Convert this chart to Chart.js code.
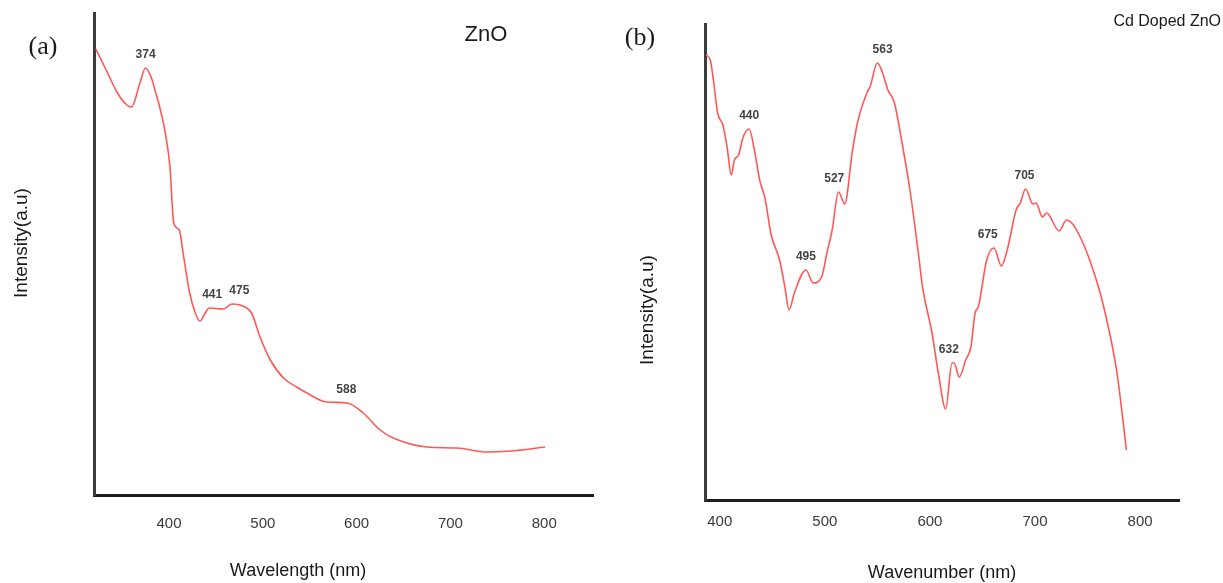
<!DOCTYPE html>
<html>
<head>
<meta charset="utf-8">
<script src="https://cdn.jsdelivr.net/npm/chart.js@4.4.1/dist/chart.umd.min.js"></script>
<style>
  body { margin: 0; background: #fff; width: 1223px; height: 583px; overflow: hidden; position: relative; }
  canvas { position: absolute; top: 0; }
  #chartA { left: 0; }
  #chartB { left: 600px; }
</style>
</head>
<body>
<canvas id="chartA" width="600" height="583"></canvas>
<canvas id="chartB" width="623" height="583"></canvas>
<script>
// shared tick labels
const xTicks = [400, 500, 600, 700, 800];

// (a) ZnO
const znoWavelength = [322, 334, 345, 355, 360, 369, 375, 382, 385, 390,
  396, 401, 405, 411, 415, 422, 428, 433, 438, 443,
  458, 467, 481, 488, 497, 508, 522, 536, 547, 568,
  590, 607, 625, 639, 675, 707, 739, 764, 801];
const znoIntensity = [446, 423, 402, 390, 388, 412, 427, 415, 405, 388,
  362, 328, 272, 265, 242, 202, 182, 174, 181, 187,
  186, 191, 188, 182, 158, 135, 117, 108, 102, 93,
  92, 82, 65, 57, 48, 47, 43, 44, 48];
const znoPeakAt = [375, 446, 475, 589];
const znoPeakLabels = ["374", "441", "475", "588"];

// (b) Cd doped ZnO
const cdWavelength = [387, 391, 394, 398, 403, 407, 411, 414, 418, 422,
  428, 433, 438, 443, 449, 457, 462, 466, 471, 482,
  489, 497, 502, 507, 513, 519, 526, 531, 540, 543,
  550, 555, 560, 566, 573, 581, 589, 593, 602, 608,
  615, 621, 623, 628, 634, 639, 643, 646, 654, 661,
  668, 674, 682, 686, 691, 698, 701, 707, 711, 723,
  730, 735, 743, 752, 762, 771, 778, 787];
const cdIntensity = [445, 440, 420, 387, 375, 353, 325, 340, 345, 362,
  371, 350, 320, 302, 265, 240, 213, 190, 207, 230,
  217, 223, 247, 270, 308, 296, 347, 377, 407, 413,
  437, 427, 410, 398, 360, 310, 247, 213, 167, 127,
  91, 137, 137, 123, 140, 153, 187, 193, 240, 252,
  234, 252, 290, 297, 311, 296, 297, 283, 287, 269,
  280, 277, 263, 240, 207, 167, 127, 50];
const cdPeakAt = [428, 482, 509, 555, 618, 655, 690];
const cdPeakLabels = ["440", "495", "527", "563", "632", "675", "705"];

const lineRed = "rgb(255, 88, 88)";
const sans = "'Liberation Sans', Arial, sans-serif";

// highest read point of the curve near a wavelength
function curveTopNear(xs, ys, x, span) {
  let top = -Infinity;
  xs.forEach((v, i) => { if (Math.abs(v - x) <= span && ys[i] > top) top = ys[i]; });
  return top;
}

// peak numbers above the curve
const peakLabelPlugin = {
  id: "peakLabels",
  afterDatasetsDraw(chart, args, opts) {
    const { ctx, scales: { x, y } } = chart;
    ctx.save();
    ctx.font = "bold 12px " + sans;
    ctx.fillStyle = "#444";
    ctx.textAlign = "center";
    ctx.textBaseline = "middle";
    opts.at.forEach((wl, i) => {
      const py = y.getPixelForValue(curveTopNear(opts.xs, opts.ys, wl, 8));
      ctx.fillText(opts.labels[i], x.getPixelForValue(wl), py - 13);
    });
    ctx.restore();
  }
};

// panel letters, titles, axis names
const panelTextPlugin = {
  id: "panelText",
  afterDraw(chart, args, opts) {
    const ctx = chart.ctx;
    opts.items.forEach(it => {
      ctx.save();
      ctx.font = it.font;
      ctx.fillStyle = it.color || "#1a1a1a";
      ctx.textAlign = it.align || "center";
      ctx.textBaseline = "middle";
      ctx.translate(it.x, it.y);
      if (it.rotate) ctx.rotate(it.rotate);
      ctx.fillText(it.text, 0, 0);
      ctx.restore();
    });
  }
};

function makePanel(id, xs, ys, peakAt, peakLabels, range, frame, texts) {
  return new Chart(document.getElementById(id), {
    type: "line",
    data: {
      datasets: [{
        data: xs.map((v, i) => ({ x: v, y: ys[i] })),
        borderColor: lineRed,
        borderWidth: 1.6,
        pointRadius: 0,
        fill: false,
        cubicInterpolationMode: "monotone"
      }]
    },
    options: {
      responsive: false,
      animation: false,
      layout: { padding: { top: frame.top, right: frame.right, left: 0, bottom: 0 } },
      plugins: {
        legend: { display: false },
        tooltip: { enabled: false },
        peakLabels: { xs: xs, ys: ys, at: peakAt, labels: peakLabels },
        panelText: { items: texts }
      },
      scales: {
        x: {
          type: "linear",
          min: range.xMin,
          max: range.xMax,
          afterFit: s => { s.height = frame.axisHeight; },
          afterBuildTicks: s => { s.ticks = xTicks.map(v => ({ value: v })); },
          grid: { display: false, drawTicks: false },
          border: { display: true, color: "#1e1e1e", width: 3 },
          ticks: { padding: frame.tickPad, color: "#3a3a3a", font: { family: sans, size: 15 } }
        },
        y: {
          min: 0,
          max: range.yMax,
          afterFit: s => { s.width = frame.left; },
          ticks: { display: false },
          grid: { display: false, drawTicks: false },
          border: { display: true, color: "#3c3c3c", width: 3 }
        }
      }
    },
    plugins: [peakLabelPlugin, panelTextPlugin]
  });
}

makePanel("chartA", znoWavelength, znoIntensity, znoPeakAt, znoPeakLabels,
  { xMin: 320, xMax: 852, yMax: 482 },
  { left: 94, right: 7, top: 13, axisHeight: 88, tickPad: 20 },
  [
    { text: "(a)", x: 43, y: 47, font: "26px 'Liberation Serif', 'Times New Roman', serif" },
    { text: "ZnO", x: 486, y: 35, font: "22px " + sans },
    { text: "Intensity(a.u)", x: 22, y: 243, font: "19px " + sans, rotate: -Math.PI / 2 },
    { text: "Wavelength (nm)", x: 298, y: 571, font: "18px " + sans }
  ]);

makePanel("chartB", cdWavelength, cdIntensity, cdPeakAt, cdPeakLabels,
  { xMin: 386, xMax: 837, yMax: 476 },
  { left: 105, right: 44, top: 24, axisHeight: 83, tickPad: 13 },
  [
    { text: "(b)", x: 40, y: 38, font: "26px 'Liberation Serif', 'Times New Roman', serif" },
    { text: "Cd Doped ZnO", x: 621, y: 22, font: "16px " + sans, align: "right" },
    { text: "Intensity(a.u)", x: 48, y: 310, font: "19px " + sans, rotate: -Math.PI / 2 },
    { text: "Wavenumber (nm)", x: 342, y: 573, font: "18px " + sans }
  ]);
</script>
</body>
</html>
